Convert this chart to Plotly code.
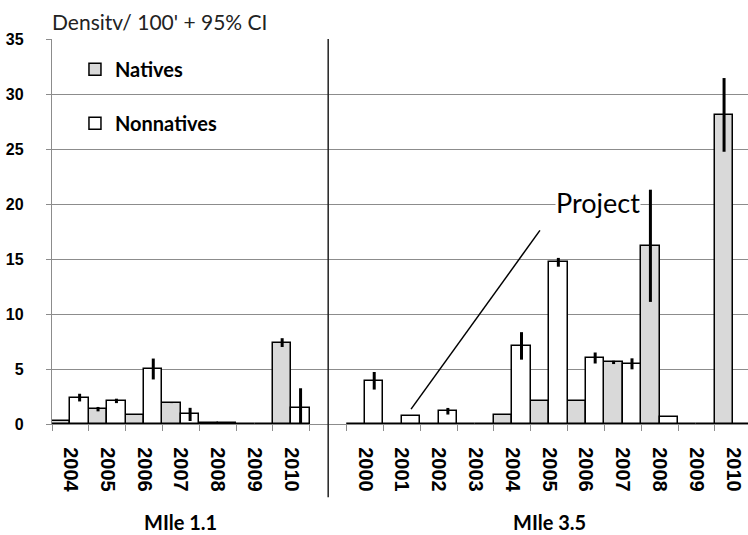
import plotly.graph_objects as go

# ---------------- data ----------------
years_mile_11 = ["2004", "2005", "2006", "2007", "2008", "2009", "2010"]
years_mile_35 = ["2000", "2001", "2002", "2003", "2004", "2005",
                 "2006", "2007", "2008", "2009", "2010"]
group_labels = ["MIle 1.1", "MIle 3.5"]
series_names = ["Natives", "Nonnatives"]

natives_mile_11 = [0.25, 1.35, 0.85, 1.95, 0.12, 0, 7.4]
natives_ci_mile_11 = [0, 0.2, 0, 0.05, 0, 0, 0.4]
nonnatives_mile_11 = [2.4, 2.1, 5.0, 0.87, 0.1, 0, 1.5]
nonnatives_ci_mile_11 = [0.35, 0.2, 0.95, 0.6, 0, 0, 1.75]

natives_mile_35 = [0, 0, 0, 0, 0.85, 2.1, 2.1, 5.6, 16.2, 0, 28.1]
natives_ci_mile_35 = [0, 0, 0, 0, 0, 0, 0, 0.15, 5.1, 0, 3.35]
nonnatives_mile_35 = [3.93, 0.7, 1.16, 0, 7.1, 14.7, 6.0, 5.47, 0.6, 0, 0]
nonnatives_ci_mile_35 = [0.8, 0, 0.3, 0, 1.25, 0.4, 0.5, 0.5, 0, 0, 0]

y_title = "Densitv/ 100' + 95% CI"
note_text = "Project"

# ---------------- positions (one slot per year, blank slot between groups) ----------------
n11 = len(years_mile_11)
x11 = list(range(n11))
x35 = [n11 + 1 + i for i in range(len(years_mile_35))]
x_all = x11 + x35
tick_text = years_mile_11 + years_mile_35
divider_x = n11
boundaries = [v - 0.5 for v in x11] + [x11[-1] + 0.5] + [v - 0.5 for v in x35] + [x35[-1] + 0.5]

GRID = "#8c8c8c"
TXT = "Lato"
NUM = "Liberation Sans"

fig = go.Figure()
fig.add_trace(go.Bar(
    x=x_all, y=natives_mile_11 + natives_mile_35, name=series_names[0],
    legendgroup="a",
    marker=dict(color="#d9d9d9", line=dict(color="black", width=1.5)),
    error_y=dict(type="data", array=natives_ci_mile_11 + natives_ci_mile_35,
                 color="black", thickness=3, width=0),
))
fig.add_trace(go.Bar(
    x=x_all, y=nonnatives_mile_11 + nonnatives_mile_35, name=series_names[1],
    legendgroup="b",
    marker=dict(color="white", line=dict(color="black", width=1.5)),
    error_y=dict(type="data", array=nonnatives_ci_mile_11 + nonnatives_ci_mile_35,
                 color="black", thickness=3, width=0),
))

fig.update_layout(
    width=748, height=535,
    margin=dict(l=52, r=0, t=39, b=111),
    paper_bgcolor="white", plot_bgcolor="white",
    barmode="group", bargap=0, bargroupgap=0,
    showlegend=True,
    legend=dict(x=0.033, y=0.972, xanchor="left", yanchor="top",
                traceorder="grouped", tracegroupgap=25,
                font=dict(family=TXT, size=20, color="black", weight="bold"),
                bgcolor="rgba(0,0,0,0)"),
    xaxis=dict(
        range=[-0.5, x35[-1] + 0.4],
        tickmode="array", tickvals=x_all, ticktext=tick_text,
        tickangle=90, ticks="", ticklabelstandoff=18,
        tickfont=dict(family=NUM, size=20, color="black", weight="bold"),
        showgrid=False, zeroline=False,
        showline=True, linecolor=GRID, linewidth=1.3,
        minor=dict(tickmode="array", tickvals=boundaries, ticks="outside",
                   ticklen=6, tickcolor=GRID, tickwidth=1.3, showgrid=False),
    ),
    yaxis=dict(
        range=[0, 35], tickmode="linear", tick0=0, dtick=5,
        showgrid=True, gridcolor=GRID, gridwidth=1.3, zeroline=False,
        showline=True, linecolor=GRID, linewidth=1.3,
        ticks="outside", ticklen=5, tickcolor=GRID, tickwidth=1.3,
        ticklabelstandoff=19,
        tickfont=dict(family=NUM, size=16, color="black", weight="bold"),
    ),
)

# divider between the two sites
fig.add_shape(type="line", xref="x", yref="paper", x0=divider_x, x1=divider_x,
              y0=1, y1=-0.19, line=dict(color="#222222", width=1.5))

# "Project" pointer line
fig.add_shape(type="line", xref="x", yref="y", x0=12.75, y0=17.6, x1=9.25, y1=1.35,
              line=dict(color="black", width=1.5))

fig.add_annotation(text=note_text, xref="x", yref="y", x=14.32, y=20.15,
                   showarrow=False, xanchor="center", yanchor="middle",
                   bgcolor="white", borderpad=0,
                   font=dict(family=TXT, size=27, color="black"))

fig.add_annotation(text=y_title, xref="paper", yref="paper", x=-0.003, y=1.045,
                   xanchor="left", yanchor="middle", showarrow=False,
                   font=dict(family=TXT, size=21, color="#222222"))

group_centers = [sum(x11) / len(x11), sum(x35) / len(x35)]
for lbl, cx in zip(group_labels, group_centers):
    fig.add_annotation(text=lbl, xref="x", yref="paper", x=cx, y=-0.254,
                       xanchor="center", yanchor="middle", showarrow=False,
                       font=dict(family=TXT, size=20, color="black", weight="bold"))

fig.write_html("out.html",
               config={"displayModeBar": False},
               post_script="document.body.style.margin='0';document.body.style.padding='0';")
